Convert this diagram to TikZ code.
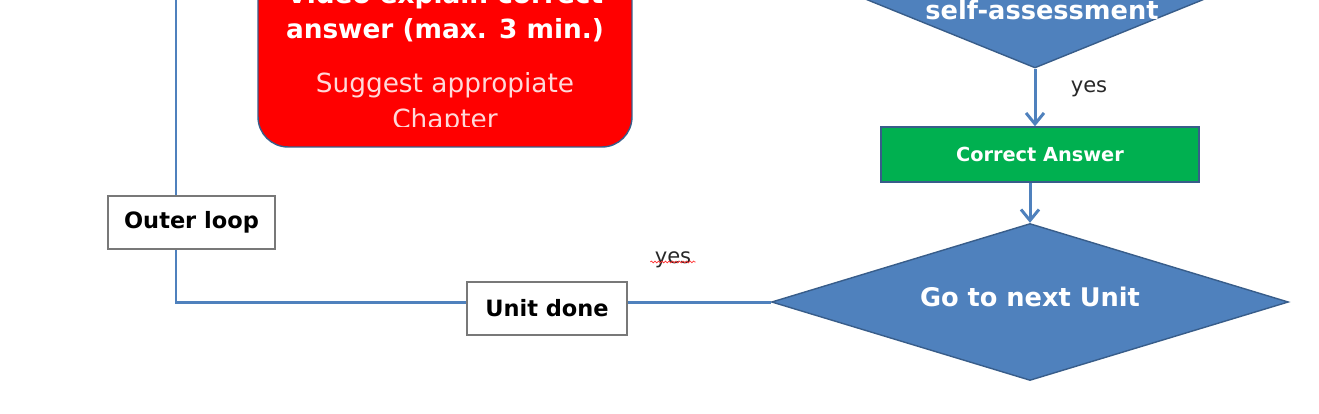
\documentclass[tikz,border=0pt]{standalone}
\usepackage{fontspec}
\setmainfont{DejaVu Sans}
\usetikzlibrary{arrows.meta, positioning, shapes.geometric, decorations.pathmorphing}
\definecolor{flowblue}{RGB}{79,129,189}
\definecolor{edgeblue}{RGB}{56,93,138}
\definecolor{okgreen}{RGB}{0,176,80}
\definecolor{boxgray}{RGB}{120,120,120}
\definecolor{textgray}{RGB}{40,40,40}

\begin{document}
\begin{tikzpicture}[x=0.02cm, y=-0.02cm,
  line/.style={flowblue, line width=1.7pt},
  arr/.style={line, -{Straight Barb[length=0.22cm, width=0.36cm, line width=1.7pt]}},
  whitebox/.style={draw=boxgray, line width=1pt, fill=white, inner sep=0pt,
    font=\fontsize{12.8}{15}\selectfont\bfseries, text=black},
  decision/.style={diamond, aspect=3.3, draw=edgeblue, line width=0.8pt, fill=flowblue, inner sep=0pt,
    font=\fontsize{14.6}{17}\selectfont\bfseries, text=white},
  yeslabel/.style={font=\fontsize{12}{14}\selectfont, text=textgray}]
  \useasboundingbox (0,0) rectangle (1319,413);
  \clip (0,0) rectangle (1319,413);

  % red feedback box (cut at the top)
  \node[draw=edgeblue, line width=0.8pt, fill=red, rounded corners=0.6cm,
    minimum width=7.48cm, minimum height=4.94cm] (video) at (445,23.5) {};
  \node[anchor=base, text=white, font=\fontsize{15}{18}\selectfont\bfseries] (videoa) at (445,3) {Video explain correct};
  \node[anchor=base, text=white, font=\fontsize{15}{18}\selectfont\bfseries] (videob) at (445,38) {answer (max. 3 min.)};
  \node[anchor=base, text=red!15, font=\fontsize{15}{18}\selectfont] (suggest) at (445,92) {Suggest appropiate};
  \begin{scope}
    \clip (258,0) rectangle (632,126);
    \node[anchor=base, text=red!15, font=\fontsize{15}{18}\selectfont] (chapter) at (445,128) {Chapter};
  \end{scope}

  % right column
  \node[decision, aspect=2.5, minimum width=11.84cm, minimum height=4.8cm] (selfcheck) at (1035,-52) {};
  \node[text=white, font=\fontsize{14.6}{17}\selectfont\bfseries] (selftext) at (1042,10) {self-assessment};
  \node[draw=edgeblue, line width=0.8pt, fill=okgreen, text=white, inner sep=0pt,
    minimum width=6.36cm, minimum height=1.1cm, font=\fontsize{11}{13}\selectfont\bfseries]
    (correct) at (1040,154.5) {Correct Answer};
  \node[decision, text depth=5.6pt, minimum width=10.34cm, minimum height=3.14cm] (nextunit) at (1030,302) {Go to next Unit};

  % left loop
  \node[whitebox, minimum width=3.34cm, minimum height=1.06cm] (outer) at (191.5,222.5) {Outer loop};
  \node[whitebox, minimum width=3.2cm, minimum height=1.06cm] (unitdone) at (547,308.5) {Unit done};
  \coordinate (loopin) at (176,0);
  \coordinate (corner) at (176,302);

  \draw[arr] (selfcheck.south) -- (selfcheck.south |- correct.north);
  \node[yeslabel] (yesa) at (1089,89) {yes};
  \draw[arr] (correct.south -| nextunit.north) -- (nextunit.north);

  \draw[line] (nextunit.west) -- (unitdone.east |- corner);
  \draw[line] (unitdone.west |- corner) -- (corner) -- (loopin |- outer.south);
  \draw[line] (loopin |- outer.north) -- (loopin);
  \node[yeslabel] (yesb) at (673,260) {yes};
  \draw[red!80, line width=0.4pt, decorate, decoration={snake, amplitude=0.5pt, segment length=2pt}]
    ([xshift=1pt, yshift=1pt]yesb.base west) -- ([xshift=-1pt, yshift=1pt]yesb.base east);
\end{tikzpicture}
\end{document}
